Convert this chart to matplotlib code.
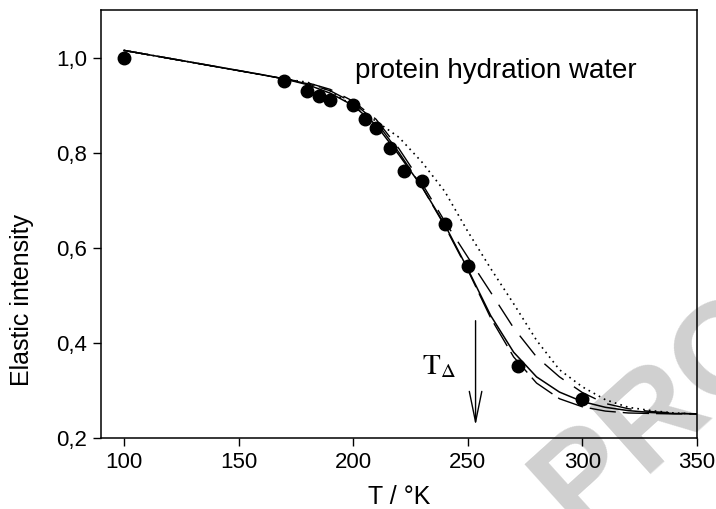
import matplotlib
matplotlib.use("Agg")
import matplotlib.pyplot as plt
from matplotlib.ticker import FuncFormatter

plt.rcParams['font.family'] = ['Liberation Sans', 'DejaVu Sans']
plt.rcParams['mathtext.fontset'] = 'stix'

# measured data
temp_pts = [100, 170, 180, 185, 190, 200, 205, 210, 216, 222, 230, 240, 250, 272, 300]
int_pts = [1.00, 0.95, 0.93, 0.919, 0.911, 0.90, 0.87, 0.851, 0.81, 0.761, 0.741, 0.65, 0.561, 0.351, 0.281]

# model curves
temp_curve = [100, 120, 140, 160, 170, 180, 190, 200, 210, 220, 230, 240, 250,
              260, 270, 280, 290, 300, 310, 320, 330, 340, 350]
curve_solid = [1.015, 0.998, 0.981, 0.964, 0.955, 0.943, 0.925, 0.899, 0.858, 0.795, 0.728, 0.648, 0.555,
               0.457, 0.380, 0.328, 0.296, 0.276, 0.264, 0.257, 0.253, 0.251, 0.250]
curve_longdash = [1.015, 0.998, 0.981, 0.964, 0.955, 0.945, 0.930, 0.905, 0.865, 0.800, 0.728, 0.645, 0.553,
                  0.452, 0.370, 0.315, 0.282, 0.265, 0.256, 0.252, 0.251, 0.250, 0.250]
curve_dash = [1.015, 0.998, 0.981, 0.964, 0.955, 0.947, 0.933, 0.908, 0.870, 0.808, 0.735, 0.655, 0.580,
              0.506, 0.431, 0.370, 0.328, 0.295, 0.272, 0.261, 0.255, 0.252, 0.250]
curve_dot = [1.015, 0.998, 0.981, 0.964, 0.955, 0.948, 0.930, 0.898, 0.866, 0.832, 0.780, 0.718, 0.634,
             0.556, 0.482, 0.405, 0.343, 0.307, 0.280, 0.264, 0.257, 0.252, 0.250]

x_ticks = [100, 150, 200, 250, 300, 350]
y_ticks = [0.2, 0.4, 0.6, 0.8, 1.0]

fig = plt.figure(figsize=(7.16, 5.09), dpi=100)
ax = fig.add_axes([101/716, 1-437.7/509, (697-101)/716, (437.7-10)/509])

# watermark
fig.text(0.715, -0.085, "PROOF", fontsize=95, fontweight='bold', color='#d0d0d0',
         rotation=42, ha='left', va='bottom', zorder=0, family='Liberation Sans')

ax.set_zorder(1)
ax.patch.set_alpha(0)

ax.plot(temp_curve, curve_solid, color='black', lw=1.1, ls='-')
ax.plot(temp_curve, curve_longdash, color='black', lw=1.0, ls=(0, (19, 5)))
ax.plot(temp_curve, curve_dash, color='black', lw=1.0, ls=(0, (18, 9)))
ax.plot(temp_curve, curve_dot, color='black', lw=1.2, ls=(0, (1, 2.5)))
ax.plot(temp_pts, int_pts, 'o', color='black', ms=9, zorder=5)

ax.annotate('', xy=(253.4, 0.22), xytext=(253.4, 0.452),
            arrowprops=dict(arrowstyle='->,head_length=2.2,head_width=0.45', color='black', lw=1.0))
ax.text(237.5, 0.351, r'$\mathrm{T}_{\Delta}$', fontsize=21, ha='center', va='center')

ax.text(201, 0.972, 'protein hydration water', fontsize=20, ha='left', va='center')

ax.set_xlim(90, 350)
ax.set_ylim(0.2, 1.1)
ax.set_xticks(x_ticks)
ax.set_yticks(y_ticks)
ax.yaxis.set_major_formatter(FuncFormatter(lambda v, p: f"{v:.1f}".replace('.', ',')))
ax.tick_params(direction='out', length=6, width=1.0, labelsize=16, pad=4)
for s in ax.spines.values():
    s.set_linewidth(1.1)

ax.set_xlabel('T / °K', fontsize=18)
ax.set_ylabel('Elastic intensity', fontsize=18)
ax.xaxis.set_label_coords(0.5, -0.11)
ax.yaxis.set_label_coords(-0.113, 0.322)

fig.savefig('out.png', dpi=100)
